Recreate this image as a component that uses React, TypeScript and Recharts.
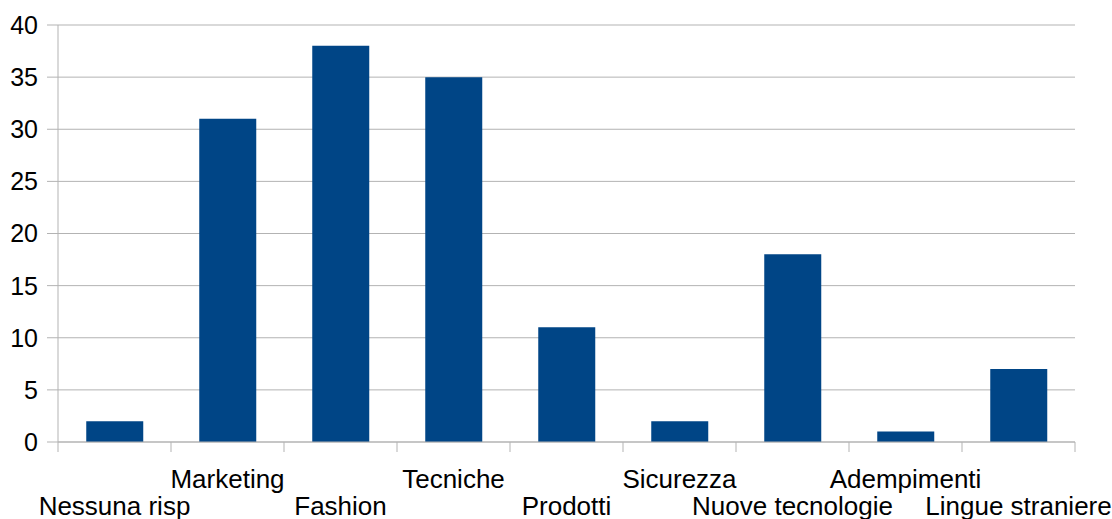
import { BarChart, Bar, XAxis, YAxis, CartesianGrid } from 'recharts';

const categories = [
  'Nessuna risp',
  'Marketing',
  'Fashion',
  'Tecniche',
  'Prodotti',
  'Sicurezza',
  'Nuove tecnologie',
  'Adempimenti',
  'Lingue straniere',
];
const counts = [2, 31, 38, 35, 11, 2, 18, 1, 7];
const yTicks = [0, 5, 10, 15, 20, 25, 30, 35, 40];

const data = categories.map((name, i) => ({ name, value: counts[i] }));

const W = 1112;
const H = 519;
const margin = { top: 25, right: 37, left: 0, bottom: 0 };
const Y_AXIS_W = 58;
const PLOT_W = W - margin.left - margin.right - Y_AXIS_W;
const FONT = "'Liberation Sans', Arial, sans-serif";
const GRID = '#b3b3b3';

const XTick = (props: any) => {
  const { x, y, payload, index } = props;
  const step = PLOT_W / categories.length;
  const upper = index % 2 === 1;
  const last = index === categories.length - 1;
  return (
    <g>
      <line x1={x - step / 2} x2={x - step / 2} y1={y} y2={y + 10} stroke={GRID} />
      {last && <line x1={x + step / 2} x2={x + step / 2} y1={y} y2={y + 10} stroke={GRID} />}
      <text
        x={x}
        y={y + (upper ? 46 : 73)}
        textAnchor="middle"
        fill="#000"
        fontSize={26}
        fontFamily={FONT}
      >
        {payload.value}
      </text>
    </g>
  );
};

export default function App() {
  return (
    <div style={{ position: 'absolute', left: 0, top: 0, background: '#fff' }}>
      <BarChart width={W} height={H} data={data} margin={margin} barCategoryGap="25%">
        <CartesianGrid vertical={false} stroke={GRID} />
        <XAxis
          dataKey="name"
          interval={0}
          height={77}
          tickSize={0}
          tickMargin={0}
          tickLine={false}
          axisLine={{ stroke: GRID }}
          tick={<XTick />}
        />
        <YAxis
          width={Y_AXIS_W}
          domain={[0, 40]}
          ticks={yTicks}
          interval={0}
          tickSize={11}
          tickMargin={9}
          tickLine={{ stroke: GRID }}
          axisLine={{ stroke: GRID }}
          tick={{ fill: '#000', fontSize: 25, fontFamily: FONT }}
        />
        <YAxis
          yAxisId="right"
          orientation="right"
          width={0}
          domain={[0, 40]}
          tick={false}
          tickLine={false}
          axisLine={{ stroke: '#d4d4d4' }}
        />
        <Bar dataKey="value" fill="#004586" isAnimationActive={false} />
      </BarChart>
    </div>
  );
}
